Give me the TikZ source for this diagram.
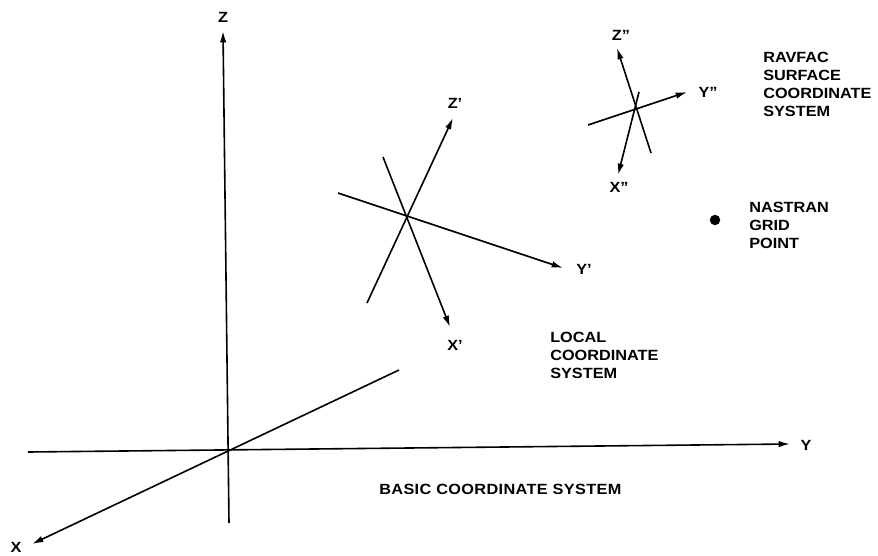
\documentclass[tikz,border=0pt]{standalone}
\usepackage{fontspec}
\setmainfont[FakeStretch=1.1]{Liberation Sans}
\usetikzlibrary{arrows.meta}
\tikzset{
 axis/.style={line width=1.2pt,black},
 arrowaxis/.style={axis,-{Latex[length=8.5pt,width=4.8pt]}},
 lab/.style={font=\bfseries\fontsize{11.1}{13.5}\selectfont,inner sep=0pt,text=black},
 blocklab/.style={lab,align=left,anchor=west}
}
\begin{document}
\begin{tikzpicture}[x=0.75pt,y=-0.75pt]
\useasboundingbox (0,0) rectangle (878,556);
\fill[white] (0,0) rectangle (878,556);
% basic
\coordinate (Ystart) at (28,452);
\coordinate (Ytip) at (790,444);
\coordinate (Zstart) at (229,523);
\coordinate (Ztip) at (223,31);
\coordinate (Xend) at (399,370);
\coordinate (Xtip) at (32,544);
\node[lab] (Y) at (806,445) {Y};
\node[lab] (Z) at (223,17) {Z};
\node[lab] (X) at (16,547) {X};
\draw[arrowaxis] (Ystart) -- (Ytip);
\draw[arrowaxis] (Zstart) -- (Ztip);
\draw[arrowaxis] (Xend) -- (Xtip);
% local
\coordinate (Lzs) at (367,303);
\coordinate (Lzt) at (453,118);
\coordinate (Lys) at (338,193);
\coordinate (Lyt) at (563,268);
\coordinate (Lxs) at (383,157);
\coordinate (Lxt) at (450,327);
\node[lab] (Zp) at (455,103) {Z'};
\node[lab] (Yp) at (584,269) {Y'};
\node[lab] (Xp) at (455,345) {X'};
\draw[arrowaxis] (Lzs) -- (Lzt);
\draw[arrowaxis] (Lys) -- (Lyt);
\draw[arrowaxis] (Lxs) -- (Lxt);
% ravfac
\coordinate (Rzs) at (651,153);
\coordinate (Rzt) at (617,48);
\coordinate (Rys) at (588,125);
\coordinate (Ryt) at (687,92);
\coordinate (Rxs) at (639,92);
\coordinate (Rxt) at (618,175);
\node[lab] (Zpp) at (621,35) {Z''};
\node[lab] (Ypp) at (708,92) {Y''};
\node[lab] (Xpp) at (619,187) {X''};
\draw[arrowaxis] (Rzs) -- (Rzt);
\draw[arrowaxis] (Rys) -- (Ryt);
\draw[arrowaxis] (Rxs) -- (Rxt);
% labels
\node[blocklab] (rav) at (763,84.5) {RAVFAC\\SURFACE\\COORDINATE\\SYSTEM};
\node[blocklab] (nas) at (749,225) {NASTRAN\\GRID\\POINT};
\node[blocklab] (loc) at (550,355) {LOCAL\\COORDINATE\\SYSTEM};
\node[lab,anchor=west] (bas) at (379,489) {\addfontfeature{LetterSpace=2.5}BASIC COORDINATE SYSTEM};
\node[circle,fill=black,inner sep=0pt,minimum size=7.8pt] (gp) at (715,220) {};
\end{tikzpicture}
\end{document}
